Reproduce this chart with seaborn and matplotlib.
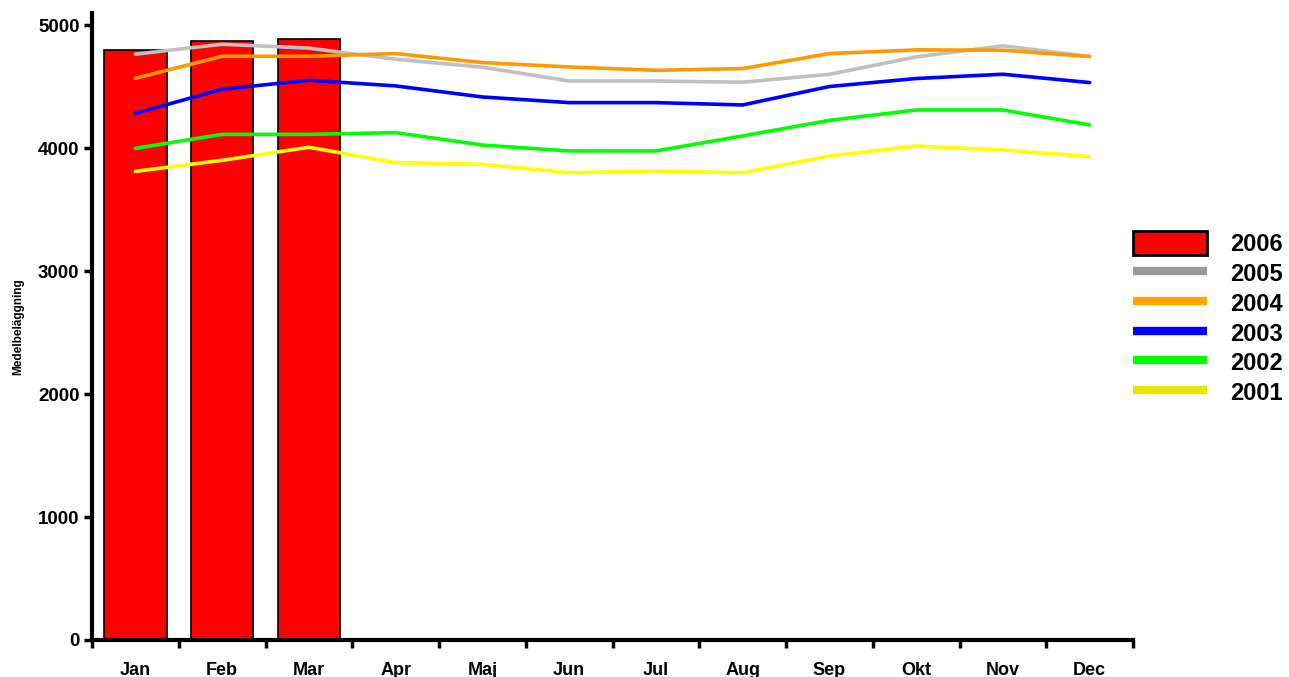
import numpy as np
import pandas as pd
import matplotlib
matplotlib.use("Agg")
import matplotlib.pyplot as plt
from matplotlib.patches import Patch
from matplotlib.lines import Line2D
import seaborn as sns

months = ["Jan", "Feb", "Mar", "Apr", "Maj", "Jun",
          "Jul", "Aug", "Sep", "Okt", "Nov", "Dec"]

# 2006 only has the first three months
y2006 = [4796, 4870, 4886]
y2005 = [4764, 4845, 4813, 4723, 4658, 4546, 4546, 4536, 4600, 4742, 4832, 4745]
y2004 = [4568, 4747, 4747, 4769, 4696, 4660, 4633, 4647, 4769, 4799, 4796, 4745]
y2003 = [4283, 4479, 4552, 4506, 4416, 4370, 4370, 4351, 4501, 4566, 4601, 4533]
y2002 = [3998, 4112, 4112, 4126, 4025, 3977, 3977, 4099, 4226, 4310, 4310, 4189]
y2001 = [3811, 3901, 4007, 3882, 3868, 3800, 3814, 3800, 3936, 4017, 3985, 3931]

line_years = ["2005", "2004", "2003", "2002", "2001"]
line_values = [y2005, y2004, y2003, y2002, y2001]
line_colors = {"2005": "#C0C0C0", "2004": "#FF9900", "2003": "#0000FF",
               "2002": "#00FF00", "2001": "#FFFF00"}
legend_colors = {"2005": "#999999", "2004": "#FFA500", "2003": "#0000FF",
                 "2002": "#00FF00", "2001": "#E6E600"}

sns.set_style("white")
plt.rcParams["font.family"] = ["Liberation Sans", "DejaVu Sans"]
plt.rcParams["font.weight"] = "bold"
plt.rcParams["text.color"] = "black"
plt.rcParams["xtick.color"] = "black"
plt.rcParams["ytick.color"] = "black"
plt.rcParams["axes.labelcolor"] = "black"

# Data frames
bars = pd.DataFrame({"Month": months, "Value": y2006 + [np.nan] * 9})
rows = []
for year, vals in zip(line_years, line_values):
    for i, v in enumerate(vals):
        rows.append({"pos": i, "Year": year, "Value": v})
lines = pd.DataFrame(rows)

fig = plt.figure(figsize=(12.89, 6.77), dpi=100)
ax = fig.add_axes([0.0714, 0.0547, 0.8076, 0.9263])

sns.barplot(data=bars, x="Month", y="Value", color="#FF0000",
            edgecolor="black", linewidth=1.2, width=0.72, saturation=1,
            ax=ax)

sns.lineplot(data=lines, x="pos", y="Value", hue="Year",
             palette=line_colors, linewidth=2.6, legend=False, ax=ax)

ax.set_xlim(-0.5, 11.5)
ax.set_ylim(0, 5100)
ax.set_yticks([0, 1000, 2000, 3000, 4000, 5000])
ax.set_xticks(range(12))
ax.set_xticklabels(months, fontsize=13, fontweight="bold")
ax.set_xticks(np.arange(-0.5, 12, 1), minor=True)
ax.tick_params(axis="x", which="major", bottom=True, length=0, pad=16)
ax.tick_params(axis="x", which="minor", bottom=True, length=6, width=2.5,
               direction="out")
ax.tick_params(axis="y", left=True, length=6, width=2.5, direction="out",
               labelsize=13.5, pad=3)
for lab in ax.get_yticklabels():
    lab.set_fontweight("bold")

ax.set_xlabel("")
ax.set_ylabel("Medelbeläggning", fontsize=8.5, fontweight="bold", labelpad=10)

for side in ["top", "right"]:
    ax.spines[side].set_visible(False)
for side in ["left", "bottom"]:
    ax.spines[side].set_linewidth(3)
    ax.spines[side].set_color("black")

handles = [Patch(facecolor="#FF0000", edgecolor="black", linewidth=2,
                 label="2006")]
for year in line_years:
    handles.append(Line2D([0], [0], color=legend_colors[year], linewidth=6,
                          solid_capstyle="butt", label=year))
leg = fig.legend(handles=handles, loc="center left",
                 bbox_to_anchor=(0.879, 0.53), frameon=False,
                 borderpad=0, borderaxespad=0,
                 prop={"size": 17, "weight": "bold"},
                 handlelength=3.13, handleheight=1.2, labelspacing=0.2,
                 handletextpad=1.0)

fig.savefig("out.png", dpi=100)
